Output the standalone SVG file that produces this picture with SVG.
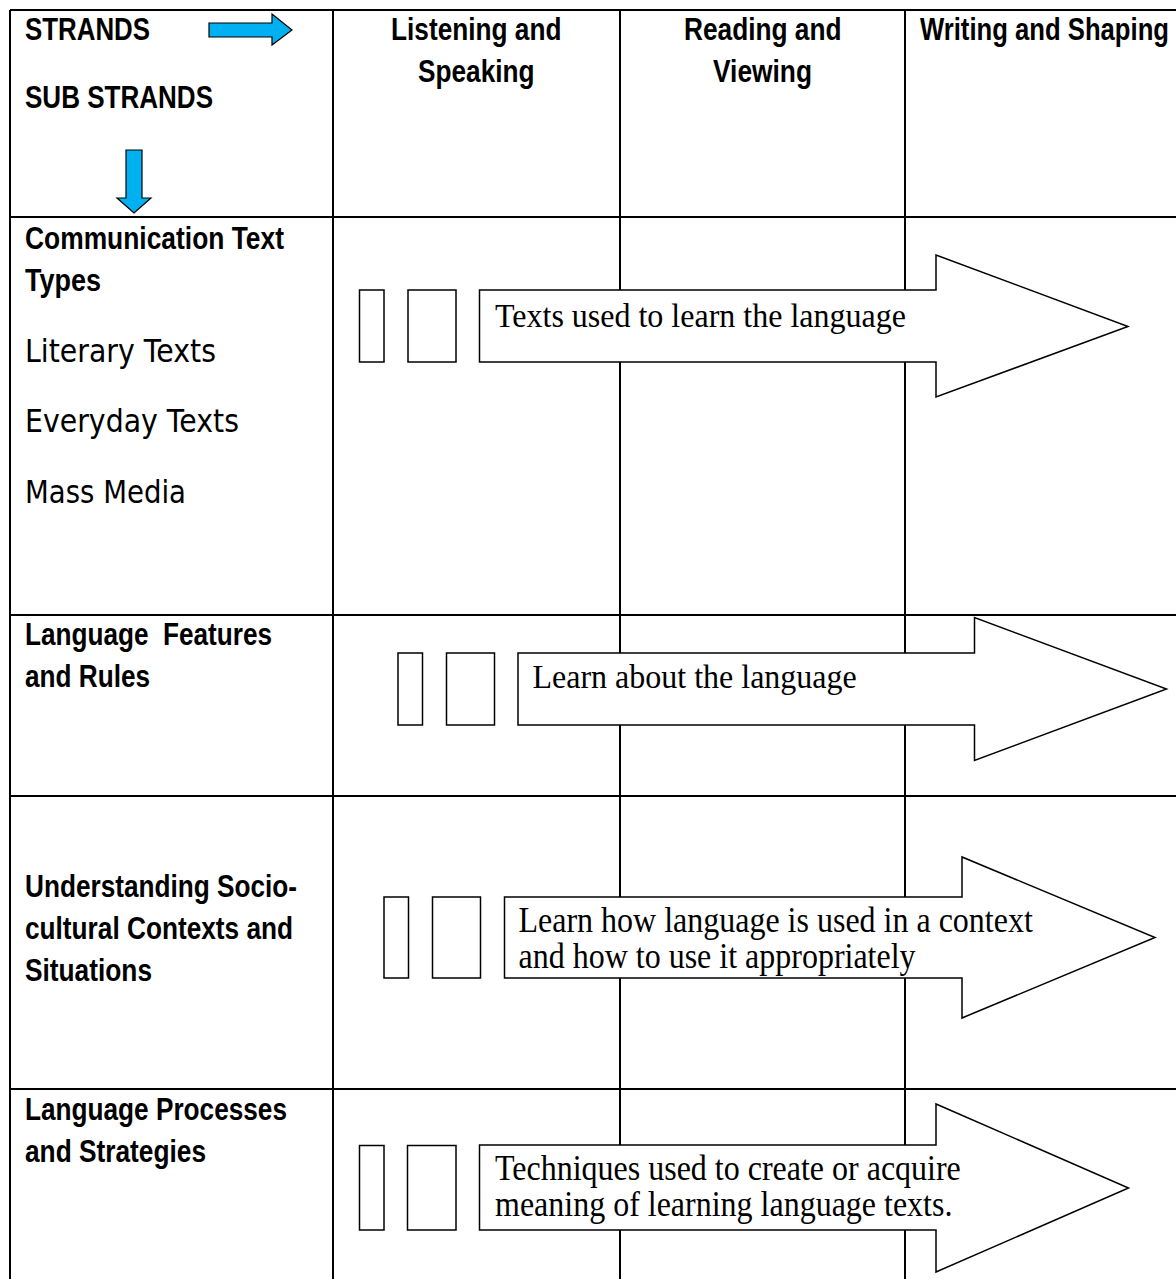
<svg xmlns="http://www.w3.org/2000/svg" width="1176" height="1279" viewBox="0 0 1176 1279">
  <style>
    .grid { stroke: #000; stroke-width: 2; fill: none; }
    .hd { font-family: "Liberation Sans Narrow", "Liberation Sans", Arial, sans-serif; font-weight: bold; font-size: 32px; fill: #000; }
    .lt { font-family: "DejaVu Sans", "Noto Sans", sans-serif; font-size: 32px; fill: #000; }
    .sr { font-family: "Liberation Serif", "Times New Roman", serif; font-size: 32px; fill: #000; }
    .box { fill: #fff; stroke: #000; stroke-width: 1.5; }
    .blue { fill: #00B0F0; stroke: #000; stroke-width: 1.2; }
  </style>
  <rect width="1176" height="1279" fill="#fff"/>

  <!-- table grid -->
  <g id="table" class="grid">
    <line x1="10" y1="10" x2="1176" y2="10"/>
    <line x1="10" y1="10" x2="10" y2="1279"/>
    <line x1="333" y1="10" x2="333" y2="1279"/>
    <line x1="620" y1="10" x2="620" y2="1279"/>
    <line x1="905" y1="10" x2="905" y2="1279"/>
    <line x1="10" y1="217" x2="1176" y2="217"/>
    <line x1="10" y1="615" x2="1176" y2="615"/>
    <line x1="10" y1="796" x2="1176" y2="796"/>
    <line x1="10" y1="1089" x2="1176" y2="1089"/>
  </g>

  <!-- header cells -->
  <g id="header">
    <text class="hd" x="25" y="40" textLength="125" lengthAdjust="spacingAndGlyphs">STRANDS</text>
    <text class="hd" x="25" y="108" textLength="188" lengthAdjust="spacingAndGlyphs">SUB STRANDS</text>
    <polygon class="blue" points="209,23 272,23 272,14 292,30 272,45 272,37 209,37"/>
    <polygon class="blue" points="126,150 142,150 142,198 151,198 134,213 117,198 126,198"/>
    <text class="hd" x="391" y="40" textLength="170.5" lengthAdjust="spacingAndGlyphs">Listening and</text>
    <text class="hd" x="418" y="82" textLength="116.5" lengthAdjust="spacingAndGlyphs">Speaking</text>
    <text class="hd" x="684" y="40" textLength="157.5" lengthAdjust="spacingAndGlyphs">Reading and</text>
    <text class="hd" x="713" y="82" textLength="99" lengthAdjust="spacingAndGlyphs">Viewing</text>
    <text class="hd" x="920" y="40" textLength="249" lengthAdjust="spacingAndGlyphs">Writing and Shaping</text>
  </g>

  <!-- sub strand labels -->
  <g id="communication-text-types">
    <text class="hd" x="25" y="249" textLength="259" lengthAdjust="spacingAndGlyphs">Communication Text</text>
    <text class="hd" x="25" y="291" textLength="76" lengthAdjust="spacingAndGlyphs">Types</text>
    <text class="lt" x="25" y="362" textLength="191" lengthAdjust="spacingAndGlyphs">Literary Texts</text>
    <text class="lt" x="25" y="432" textLength="214" lengthAdjust="spacingAndGlyphs">Everyday Texts</text>
    <text class="lt" x="25" y="503" textLength="161" lengthAdjust="spacingAndGlyphs">Mass Media</text>
  </g>
  <g id="language-features">
    <text class="hd" x="25" y="645" textLength="247" lengthAdjust="spacingAndGlyphs" xml:space="preserve">Language  Features</text>
    <text class="hd" x="25" y="687" textLength="125" lengthAdjust="spacingAndGlyphs">and Rules</text>
  </g>
  <g id="sociocultural-contexts">
    <text class="hd" x="25" y="897" textLength="272" lengthAdjust="spacingAndGlyphs">Understanding Socio-</text>
    <text class="hd" x="25" y="939" textLength="268" lengthAdjust="spacingAndGlyphs">cultural Contexts and</text>
    <text class="hd" x="25" y="981" textLength="127" lengthAdjust="spacingAndGlyphs">Situations</text>
  </g>
  <g id="language-processes">
    <text class="hd" x="25" y="1120" textLength="262" lengthAdjust="spacingAndGlyphs">Language Processes</text>
    <text class="hd" x="25" y="1162" textLength="181" lengthAdjust="spacingAndGlyphs">and Strategies</text>
  </g>

  <!-- block arrows across the strands -->
  <g id="arrow-texts">
    <rect class="box" x="359.5" y="290" width="24.5" height="72"/>
    <rect class="box" x="408" y="290" width="48" height="72"/>
    <polygon class="box" points="479.5,290 936,290 936,255 1128,326.5 936,397 936,362 479.5,362"/>
    <text class="sr" transform="translate(495 327) scale(1 1.08)">Texts used to learn the language</text>
  </g>
  <g id="arrow-features">
    <rect class="box" x="398" y="653" width="24.5" height="72"/>
    <rect class="box" x="446.5" y="653" width="48" height="72"/>
    <polygon class="box" points="518,653 974.5,653 974.5,617.5 1166.5,689 974.5,760.5 974.5,725 518,725"/>
    <text class="sr" transform="translate(532.5 688) scale(1 1.08)">Learn about the language</text>
  </g>
  <g id="arrow-contexts">
    <rect class="box" x="384" y="897" width="24.5" height="81"/>
    <rect class="box" x="432.5" y="897" width="48" height="81"/>
    <polygon class="box" points="504.5,897 962,897 962,857 1155,937.5 962,1018 962,978 504.5,978"/>
    <text class="sr" transform="translate(518.5 932) scale(1 1.1)">Learn how language is used in a context</text>
    <text class="sr" transform="translate(518.5 968) scale(1 1.1)">and how to use it appropriately</text>
  </g>
  <g id="arrow-processes">
    <rect class="box" x="359.5" y="1145.5" width="24.5" height="84.5"/>
    <rect class="box" x="407.5" y="1145.5" width="48.5" height="84.5"/>
    <polygon class="box" points="479.5,1145 936,1145 936,1104 1128.5,1188 936,1272 936,1230 479.5,1230"/>
    <text class="sr" transform="translate(495 1180) scale(1 1.1)">Techniques used to create or acquire</text>
    <text class="sr" transform="translate(495 1216) scale(1 1.1)">meaning of learning language texts.</text>
  </g>
</svg>
